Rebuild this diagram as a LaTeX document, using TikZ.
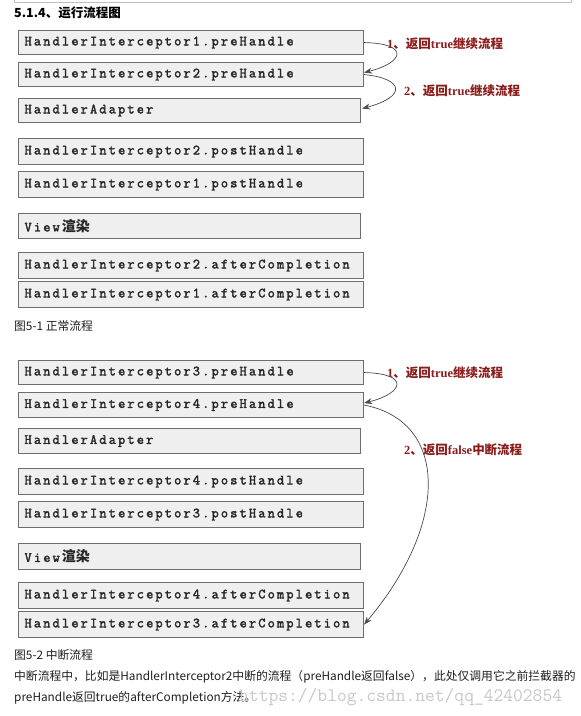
\documentclass[tikz,border=0pt]{standalone}
\usepackage{fontspec}
\usetikzlibrary{arrows.meta}
\newfontfamily\cjk{Noto Sans CJK SC}
\newfontfamily\lser{Liberation Serif}
\newfontfamily\boxtt{Latin Modern Mono}[FakeBold=2.2]
\definecolor{boxline}{HTML}{6E6E6E}
\definecolor{boxfill}{HTML}{EFEFEF}
\definecolor{labred}{HTML}{8B1C1C}
\definecolor{arrowc}{HTML}{4A4A4A}
\definecolor{wmark}{HTML}{C8C8C8}
\newcommand\spc[1]{\spcaux#1\relax}
\def\spcaux#1{\ifx\relax#1\else\makebox[9.35pt][l]{#1}\expandafter\spcaux\fi}
\newcommand\lab[3]{{\lser\bfseries #1}{\cjk\bfseries 、返回}{\lser\bfseries #2}{\cjk\bfseries #3}}
\begin{document}
\begin{tikzpicture}[x=1pt,y=-1pt,
  box/.style={draw=boxline, fill=boxfill, line width=1.1pt, minimum height=25pt,
    text width=333pt, inner xsep=6pt, inner ysep=0pt, anchor=north west, align=left,
    font=\boxtt\fontsize{14}{15}\selectfont, text=black!85},
  shortbox/.style={box, text width=330pt},
  lbl/.style={anchor=west, inner sep=0pt, text=labred, font=\fontsize{12.5}{14}\selectfont},
  captxt/.style={anchor=west, inner sep=0pt, text=black!88, font=\cjk\fontsize{11.8}{13}\selectfont},
  flow/.style={draw=arrowc, line width=0.7pt, -{Stealth[length=8pt,width=6pt]}}]
\useasboundingbox[fill=white] (0,0) rectangle (581,716);
% top border of previous box
\draw[color=black!25, line width=0.8pt] (14,0) -- (14,2) -- (571,2) -- (571,0);
\node[anchor=west, inner sep=0pt, font=\cjk\bfseries\fontsize{12.5}{14}\selectfont] (t) at (14,13) {5.1.4、运行流程图};
% figure 5-1
\node[box, minimum height=24pt] (b1) at (18,30) {\spc{HandlerInterceptor1.preHandle}};
\node[box, minimum height=24pt] (b2) at (18,62) {\spc{HandlerInterceptor2.preHandle}};
\node[shortbox, minimum height=24pt] (b3) at (18,98) {\spc{HandlerAdapter}};
\node[box, minimum height=26pt] (b4) at (18,138) {\spc{HandlerInterceptor2.postHandle}};
\node[box, minimum height=26pt] (b5) at (18,171) {\spc{HandlerInterceptor1.postHandle}};
\node[shortbox] (b6) at (18,213) {\spc{View}{\cjk\bfseries\fontsize{14}{14}\selectfont 渲染}};
\node[box, minimum height=26pt] (b7) at (18,252) {\spc{HandlerInterceptor2.afterCompletion}};
\node[box, minimum height=26pt] (b8) at (18,281) {\spc{HandlerInterceptor1.afterCompletion}};
\node[captxt] (c1) at (14,326) {图5-1 正常流程};
\node[lbl] (l1) at (387,44) {\lab{1}{true}{继续流程}};
\node[lbl] (l2) at (404,91) {\lab{2}{true}{继续流程}};
\draw[flow] (b1.east) .. controls +(46,1) and +(40,-10) .. ([yshift=2pt]b2.east);
\draw[flow] (b2.east) .. controls +(40,4) and +(45,-12) .. ([yshift=2pt,xshift=1pt]b3.east);
% figure 5-2
\node[box, minimum height=24pt] (b9) at (18,360) {\spc{HandlerInterceptor3.preHandle}};
\node[box] (b10) at (18,392) {\spc{HandlerInterceptor4.preHandle}};
\node[shortbox] (b11) at (18,428) {\spc{HandlerAdapter}};
\node[box, minimum height=26pt] (b12) at (18,468) {\spc{HandlerInterceptor4.postHandle}};
\node[box, minimum height=26pt] (b13) at (18,501) {\spc{HandlerInterceptor3.postHandle}};
\node[shortbox, minimum height=26pt] (b14) at (18,543) {\spc{View}{\cjk\bfseries\fontsize{14}{14}\selectfont 渲染}};
\node[box, minimum height=26pt] (b15) at (18,582) {\spc{HandlerInterceptor4.afterCompletion}};
\node[box, minimum height=26pt] (b16) at (18,611) {\spc{HandlerInterceptor3.afterCompletion}};
\node[lbl] (l3) at (387,373) {\lab{1}{true}{继续流程}};
\node[lbl] (l4) at (404,450) {\lab{2}{false}{中断流程}};
\draw[flow] (b9.east) .. controls +(46,1) and +(40,-10) .. ([yshift=2pt]b10.east);
\draw[flow] (b10.east) .. controls +(84,16) and +(86,-102) .. (b16.east);
\node[captxt] (c2) at (14,655) {图5-2 中断流程};
\node[captxt] (p1) at (14,677) {中断流程中，比如是HandlerInterceptor2中断的流程（preHandle返回false），此处仅调用它之前拦截器的};
\node[captxt] (p2) at (14,698) {preHandle返回true的afterCompletion方法。};
\node[anchor=west, inner sep=0pt, text=wmark, font=\ttfamily\fontsize{19}{20}\selectfont] (w) at (239,697) {https://blog.csdn.net/qq\_42402854};
\end{tikzpicture}
\end{document}
